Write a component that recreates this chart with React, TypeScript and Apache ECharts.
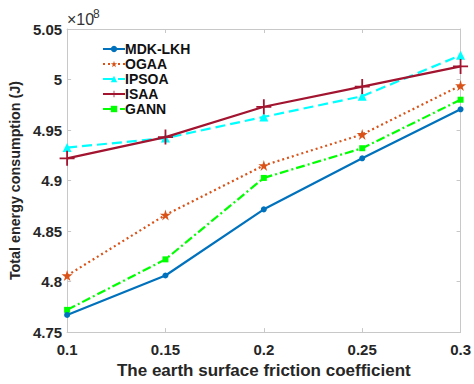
import React, { useEffect, useRef } from "react";
import * as echarts from "echarts";

const xValues = [0.1, 0.15, 0.2, 0.25, 0.3];
const mdkLkh = [4.767, 4.806, 4.8715, 4.922, 4.9705];
const ogaa = [4.806, 4.866, 4.915, 4.9457, 4.994];
const ipsoa = [4.9326, 4.942, 4.963, 4.9835, 5.024];
const isaa = [4.922, 4.943, 4.973, 4.993, 5.013];
const gann = [4.772, 4.822, 4.9026, 4.932, 4.98];
const seriesNames = ["MDK-LKH", "OGAA", "IPSOA", "ISAA", "GANN"];

const STAR = "path://M50,0 L61,35 L98,35 L68,57 L79,91 L50,70 L21,91 L32,57 L2,35 L39,35 Z";
const PLUS = "path://M44,0 H56 V44 H100 V56 H56 V100 H44 V56 H0 V44 H44 Z";

const FONT = "'Liberation Sans', Arial, sans-serif";

export default function App() {
  const ref = useRef<HTMLDivElement>(null);
  useEffect(() => {
    if (!ref.current) return;
    const chart = echarts.init(ref.current, undefined, { renderer: "svg" });
    const pair = (ys: number[]) => xValues.map((x, i) => [x, ys[i]]);
    const fmt = (v: number) => parseFloat(v.toFixed(2)).toString();
    const axisLine = { show: true, lineStyle: { color: "#c8c8c8", width: 1 } };
    const ticks = { show: true, inside: true, length: 4, lineStyle: { color: "#c8c8c8" } };
    const labelStyle = { color: "#262626", fontWeight: "bold" as const, fontSize: 15, fontFamily: FONT };
    chart.setOption({
      animation: false,
      backgroundColor: "#ffffff",
      grid: { left: 64, right: 11, top: 29, bottom: 39 },
      legend: {
        orient: "vertical",
        left: 97,
        top: 37,
        itemWidth: 22,
        itemHeight: 8,
        itemGap: 1,
        data: seriesNames,
        textStyle: { color: "#111", fontWeight: "bold", fontSize: 14, fontFamily: FONT, padding: [0, 0, 0, -5] },
      },
      xAxis: [
        {
          type: "value",
          min: 0.1,
          max: 0.3,
          interval: 0.05,
          axisLine,
          axisTick: ticks,
          splitLine: { show: false },
          axisLabel: { ...labelStyle, formatter: fmt, margin: 10 },
          name: "The earth surface friction coefficient",
          nameLocation: "middle",
          nameGap: 27,
          nameTextStyle: { color: "#262626", fontWeight: "bold", fontSize: 17, fontFamily: FONT },
        },
        {
          type: "value",
          position: "top",
          min: 0.1,
          max: 0.3,
          interval: 0.05,
          axisLine,
          axisTick: ticks,
          splitLine: { show: false },
          axisLabel: { show: false },
        },
      ],
      yAxis: [
        {
          type: "value",
          min: 4.75,
          max: 5.05,
          interval: 0.05,
          axisLine,
          axisTick: ticks,
          splitLine: { show: false },
          axisLabel: { ...labelStyle, formatter: fmt, margin: 5 },
          name: "Total energy consumption (J)",
          nameLocation: "middle",
          nameGap: 35,
          nameTextStyle: { color: "#262626", fontWeight: "bold", fontSize: 14.3, fontFamily: FONT },
        },
        {
          type: "value",
          position: "right",
          min: 4.75,
          max: 5.05,
          interval: 0.05,
          axisLine,
          axisTick: ticks,
          splitLine: { show: false },
          axisLabel: { show: false },
        },
      ],
      graphic: [
        {
          type: "text",
          x: 67,
          y: 27,
          style: {
            text: "×10",
            fill: "#333",
            font: "16px 'Liberation Sans', Arial, sans-serif",
            textVerticalAlign: "bottom",
            verticalAlign: "bottom",
          },
        },
        {
          type: "text",
          x: 93,
          y: 20,
          style: {
            text: "8",
            fill: "#333",
            font: "12px 'Liberation Sans', Arial, sans-serif",
            textVerticalAlign: "bottom",
            verticalAlign: "bottom",
          },
        },
      ],
      series: [
        {
          name: "MDK-LKH",
          type: "line",
          data: pair(mdkLkh),
          symbol: "circle",
          symbolSize: 6,
          lineStyle: { color: "#0072BD", width: 2.2 },
          itemStyle: { color: "#0072BD" },
          z: 5,
        },
        {
          name: "OGAA",
          type: "line",
          data: pair(ogaa),
          symbol: STAR,
          symbolSize: 11,
          lineStyle: { color: "#D95319", width: 2.2, type: [2, 3] },
          itemStyle: { color: "#D95319" },
          z: 4,
        },
        {
          name: "IPSOA",
          type: "line",
          data: pair(ipsoa),
          symbol: "triangle",
          symbolSize: 9,
          lineStyle: { color: "#00FFFF", width: 2.2, type: [10, 5] },
          itemStyle: { color: "#00FFFF" },
          z: 3,
        },
        {
          name: "ISAA",
          type: "line",
          data: pair(isaa),
          symbol: PLUS,
          symbolSize: 15,
          lineStyle: { color: "#A2142F", width: 2.2 },
          itemStyle: { color: "#A2142F" },
          z: 6,
        },
        {
          name: "GANN",
          type: "line",
          data: pair(gann),
          symbol: "rect",
          symbolSize: 6,
          lineStyle: { color: "#00FF00", width: 2.2, type: [9, 3, 2, 3] },
          itemStyle: { color: "#00FF00" },
          z: 4,
        },
      ],
    });
    return () => chart.dispose();
  }, []);
  return (
    <div
      ref={ref}
      style={{ position: "fixed", left: 0, top: 0, width: 474, height: 384, background: "#fff" }}
    />
  );
}
